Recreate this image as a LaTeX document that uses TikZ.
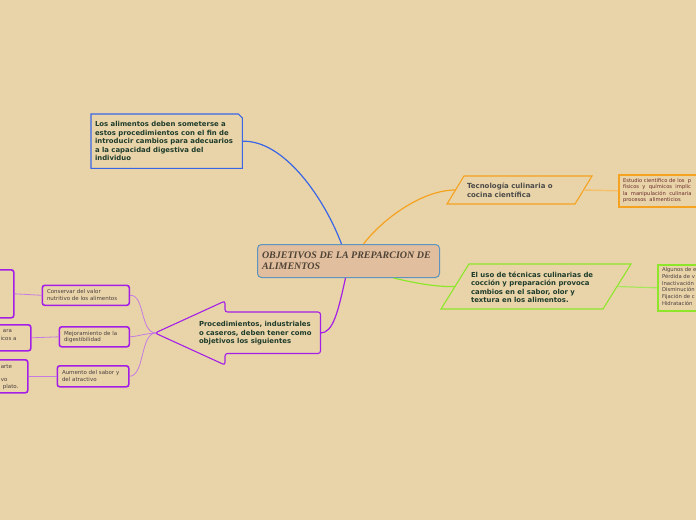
\documentclass[tikz,border=0pt]{standalone}
\usepackage{fontspec}
\setmainfont{DejaVu Sans}
\newfontfamily\titlefont{Liberation Serif}
\usetikzlibrary{calc}
\definecolor{bgc}{HTML}{E9D4A9}
\definecolor{bluec}{HTML}{3A66E6}
\definecolor{orangec}{HTML}{F5A221}
\definecolor{orangelt}{HTML}{F5BE68}
\definecolor{greenc}{HTML}{8DE62A}
\definecolor{greenlt}{HTML}{A6E65A}
\definecolor{purplec}{HTML}{A41FE6}
\definecolor{purplelt}{HTML}{C47CE0}
\definecolor{cfill}{HTML}{E0BE9E}
\definecolor{cborder}{HTML}{5E94BE}
\definecolor{tgreen}{HTML}{1E3B2A}
\definecolor{tgray}{HTML}{4C4A48}
\definecolor{tmaroon}{HTML}{6A2B2B}
\definecolor{tsmall}{HTML}{4A3E3E}
\definecolor{ttitle}{HTML}{4F4336}
\tikzset{
  txt/.style={inner sep=0pt, outer sep=0pt, align=left, anchor=north west},
  bigtxt/.style={txt, text=tgreen, font=\bfseries\fontsize{6.9}{8.5}\selectfont},
  smalltxt/.style={txt, text=tsmall, font=\fontsize{5.5}{6.7}\selectfont},
  tinytxt/.style={txt, text=tmaroon, font=\fontsize{5.2}{6.6}\selectfont},
  pbox/.style={draw=purplec, line width=1.6pt, rounded corners=2.5pt, anchor=north west, inner sep=0pt},
  thinp/.style={draw=purplelt, line width=0.8pt},
}
\begin{document}
\begin{tikzpicture}[x=1pt,y=-1pt]
\useasboundingbox (0,0) rectangle (696,520);
\fill[bgc] (0,0) rectangle (696,520);
\begin{scope}
\clip (0,0) rectangle (696,520);

% central node
\node[draw=cborder, fill=cfill, line width=1pt, rounded corners=4pt, minimum width=182pt, minimum height=33pt, anchor=north west, inner sep=0pt] (center) at (257,244) {};
\node[txt, text=ttitle, font=\titlefont\bfseries\itshape\fontsize{10}{11.6}\selectfont] (centertxt) at (262,251.5) {OBJETIVOS DE LA PREPARCION DE\\ALIMENTOS};

% blue box
\node[minimum width=151pt, minimum height=54pt, anchor=north west, inner sep=0pt] (bluebox) at (91,114) {};
\draw[bluec, line width=1.1pt] (bluebox.north west) -- ($(bluebox.north east)+(-4,0)$) -- ($(bluebox.north east)+(0,4)$) -- (bluebox.south east) -- (bluebox.south west) -- cycle;
\node[bigtxt] (bluetxt) at (95,121.5) {Los alimentos deben someterse a\\estos procedimientos con el fin de\\introducir cambios para adecuarios\\a la capacidad digestiva del\\individuo};
\draw[bluec, line width=1.2pt] ($(center.north)+(-7,0)$) .. controls (325,200) and (285,140) .. (bluebox.east);

% orange parallelogram
\coordinate (tecL) at (455.5,190);
\coordinate (tecR) at (583.5,190);
\draw[orangec, line width=1.1pt] (447,204) -- (464,176) -- (592,176) -- (575,204) -- cycle;
\node[bigtxt, text=tgray, font=\bfseries\fontsize{7}{8.6}\selectfont] (tectxt) at (467,183) {Tecnología culinaria o\\cocina científica};
\draw[orangec, line width=1.2pt] ($(center.north)+(15,0)$) .. controls (380,222) and (420,190) .. (tecL);
% orange box
\node[draw=orangec, line width=1.6pt, minimum width=90pt, minimum height=32pt, anchor=north west, inner sep=0pt] (orbox) at (618,174) {};
\draw[orangelt, line width=1.4pt] (tecR) -- (orbox.west);
\node[tinytxt] (ortxt) at (623,178) {Estudio científico de los\ \ p\\físicos\ \ y\ \ químicos\ \ implic\\la\ \ manipulación\ \ culinaria\\procesos\ \ alimenticios};

% green parallelogram
\coordinate (useL) at (455,286.5);
\coordinate (useR) at (617,286.5);
\draw[greenc, line width=1.1pt] (441,309) -- (469,264) -- (631,264) -- (603,309) -- cycle;
\node[bigtxt] (usetxt) at (471,271.5) {El uso de técnicas culinarias de\\cocción y preparación provoca\\cambios en el sabor, olor y\\textura en los alimentos.};
\draw[greenc, line width=1.2pt] ($(center.south)+(45,0)$) .. controls (415,283) and (435,287) .. (useL);
% green box
\node[draw=greenc, line width=1.6pt, minimum width=60pt, minimum height=46pt, anchor=north west, inner sep=0pt] (grbox) at (657,264) {};
\draw[greenlt, line width=1.2pt] (useR) -- (grbox.west);
\node[txt, text=tsmall, font=\fontsize{5.3}{6.8}\selectfont] (grtxt) at (662,267.5) {Algunos de e\\Pérdida de v\\Inactivación\\Disminución\\Fijación de c\\Hidratación};

% purple arrow
\coordinate (arrR) at (320.5,333);
\coordinate (arrTip) at (156,333);
\draw[purplec, line width=1.1pt, rounded corners=2.5pt] (320.5,312) -- (225,312) -- (225,301) -- (155,333) -- (225,365) -- (225,353.5) -- (320.5,353.5) -- cycle;
\node[bigtxt] (arrtxt) at (199,321.5) {Procedimientos, industriales\\o caseros, deben tener como\\objetivos los siguientes};
\draw[purplec, line width=1.2pt] ($(center.south)+(-3,0)$) .. controls (338,312) and (333,333) .. (arrR);

% purple boxes
\node[pbox, minimum width=87pt, minimum height=20pt] (boxA) at (41.5,284.5) {};
\node[pbox, minimum width=70pt, minimum height=20pt] (boxB) at (58.5,326) {};
\node[pbox, minimum width=71.5pt, minimum height=21pt] (boxC) at (56.5,365) {};
\node[smalltxt] (txtA) at (47,289.5) {Conservar del valor\\nutritivo de los alimentos};
\node[smalltxt] (txtB) at (64,331) {Mejoramiento de la\\digestibilidad};
\node[smalltxt] (txtC) at (62,370.5) {Aumento del sabor y\\del atractivo};
\draw[thinp] (arrTip) .. controls (140,333) and (145,294.5) .. (boxA.east);
\draw[thinp] (arrTip) .. controls (142,334) and (140,336) .. (boxB.east);
\draw[thinp] (arrTip) .. controls (140,333) and (145,375.5) .. (boxC.east);

% left cut boxes
\node[pbox, minimum width=23pt, minimum height=48pt] (boxAL) at (-10,269) {};
\node[pbox, minimum width=40pt, minimum height=26pt] (boxBL) at (-10,324) {};
\node[pbox, minimum width=37pt, minimum height=33pt] (boxCL) at (-10,359) {};
\draw[thinp] (boxA.west) -- (boxAL.east);
\draw[thinp] (boxB.west) -- (boxBL.east);
\draw[thinp] (boxC.west) -- (boxCL.east);
\node[smalltxt, anchor=base east] (bl1) at (12,332) {ara};
\node[smalltxt, anchor=base east] (bl2) at (16.5,340) {icos a};
\node[smalltxt, anchor=base east] (cl1) at (12,368) {arte};
\node[smalltxt, anchor=base east] (cl2) at (7.5,381.5) {vo};
\node[smalltxt, anchor=base east] (cl3) at (18.5,388.5) {plato.};
\end{scope}
\end{tikzpicture}
\end{document}
